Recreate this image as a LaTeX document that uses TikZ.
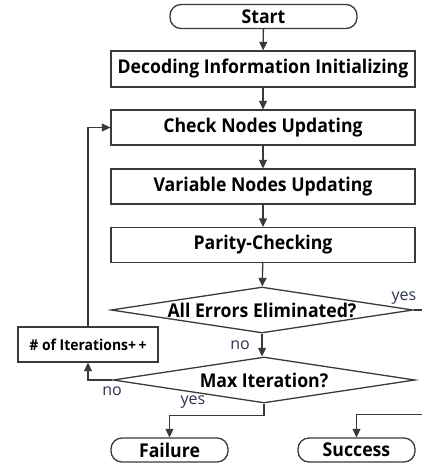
\documentclass[tikz,border=0pt]{standalone}
\usepackage{fontspec}
\setmainfont{Open Sans}
\newfontfamily\boxfont[FakeStretch=0.93]{Open Sans}
\usetikzlibrary{arrows.meta,shapes.geometric}
\definecolor{linecol}{HTML}{3A3A3A}
\definecolor{labelcol}{HTML}{2A3350}
\tikzset{
  every picture/.style={x=1pt,y=-1pt},
  base/.style={draw=linecol,line width=1.3pt,fill=white,inner sep=0pt,
    font=\boxfont\bfseries\fontsize{19}{21}\selectfont,text=black},
  procbox/.style={base,rectangle,minimum width=304pt,minimum height=35pt},
  termbox/.style={base,rectangle,rounded corners=11pt,minimum height=24pt},
  decision/.style={base,diamond,minimum width=302pt,minimum height=46pt,shape aspect=6.5},
  smallbox/.style={base,rectangle,minimum width=140pt,minimum height=35pt,
    font=\boxfont\bfseries\fontsize{15}{17}\selectfont},
  flow/.style={draw=linecol,line width=1.3pt,-{Triangle[length=8.5pt,width=8pt]}},
  link/.style={draw=linecol,line width=1.3pt},
  answer/.style={font=\fontsize{16}{18}\selectfont,text=labelcol,inner sep=0pt},
}
\begin{document}
\begin{tikzpicture}
\useasboundingbox (0,0) rectangle (422,466);

% terminals, process steps and decisions
\node[termbox,minimum width=187pt] (start) at (263.5,16.5) {Start};
\node[procbox,minimum height=36pt] (init) at (263,69) {Decoding Information Initializing};
\node[procbox] (check) at (263,127.5) {Check Nodes Updating};
\node[procbox] (var) at (263,186.5) {Variable Nodes Updating};
\node[procbox] (parity) at (263,245) {Parity-Checking};
\node[decision] (alldone) at (262,310) {All Errors Eliminated?};
\node[decision] (maxit) at (264,380) {Max Iteration?};
\node[smallbox] (iter) at (88,344.5) {\# of Iterations+\,+};
\node[termbox,minimum width=117pt] (fail) at (169.5,450) {Failure};
\node[termbox,minimum width=117pt] (succ) at (356.5,450) {Success};

% points where the success branch leaves and re-enters the frame
\coordinate (outA) at (422,310);
\coordinate (outB) at (422,414.5);

% main sequence
\draw[flow] (start) -- (init);
\draw[flow] (init) -- (check);
\draw[flow] (check) -- (var);
\draw[flow] (var) -- (parity);
\draw[flow] (parity) -- (alldone);
\draw[flow] (alldone) -- (alldone.south |- maxit.north);

% success branch
\draw[link] (alldone.east) -- (outA);
\draw[flow] (outB) -| (succ.north);

% failure branch
\draw[flow] (maxit.south) |- ++(0,11.5) -| (fail.north);

% iteration loop
\draw[flow] (maxit.west) -| (iter.south);
\draw[flow] (iter.north) |- (check.west);

% branch labels
\node[answer] (yesA) at (404,298) {yes};
\node[answer] (noA) at (240,345) {no};
\node[answer] (noB) at (112,391) {no};
\node[answer] (yesB) at (193,402) {yes};
\end{tikzpicture}
\end{document}
